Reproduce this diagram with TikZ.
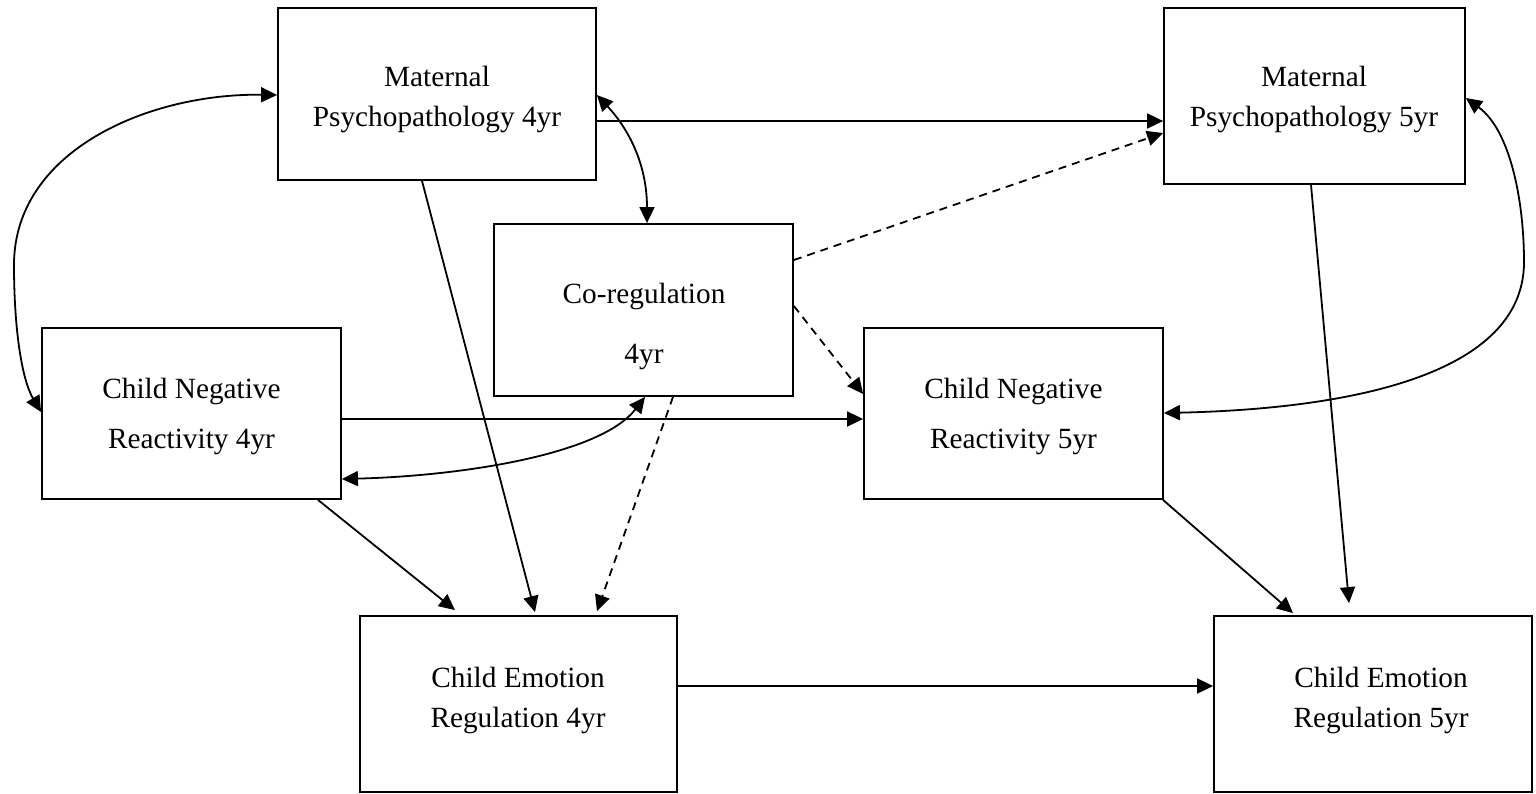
\documentclass[tikz,border=0pt]{standalone}
\usepackage{fontspec}
\setmainfont{Liberation Serif}
\usetikzlibrary{arrows.meta,calc}
\begin{document}
\begin{tikzpicture}[x=0.5pt,y=-0.5pt,
  box/.style={draw,line width=0.9pt,inner sep=0pt,rectangle},
  txt/.style={anchor=base,inner sep=0pt,font=\fontsize{14.65}{17}\selectfont},
  conn/.style={line width=0.9pt},
  dsh/.style={conn,dash pattern=on 4pt off 3pt},
  >={Triangle[length=8pt,width=7.5pt]}]
\useasboundingbox (0,0) rectangle (1536,793);
% boxes
\node[box,minimum width=159pt,minimum height=86pt] (mp4) at (437,94) {};
\node[box,minimum width=150.5pt,minimum height=88pt] (mp5) at (1314.5,96) {};
\node[box,minimum width=149.5pt,minimum height=86pt] (cr) at (643.5,310) {};
\node[box,minimum width=149.5pt,minimum height=85.5pt] (cn4) at (191.5,413.5) {};
\node[box,minimum width=149.5pt,minimum height=85.5pt] (cn5) at (1013.5,413.5) {};
\node[box,minimum width=158.5pt,minimum height=88pt] (ce4) at (518.5,704) {};
\node[box,minimum width=159pt,minimum height=88pt] (ce5) at (1373,704) {};
% texts
\node[txt] (mp4a) at (437,86) {Maternal};
\node[txt] (mp4b) at (437,126) {Psychopathology 4yr};
\node[txt] (mp5a) at (1314,86) {Maternal};
\node[txt] (mp5b) at (1314,126) {Psychopathology 5yr};
\node[txt] (cra) at (644,303) {Co-regulation};
\node[txt] (crb) at (644,363) {4yr};
\node[txt] (cn4a) at (191.5,398) {Child Negative};
\node[txt] (cn4b) at (191.5,448) {Reactivity 4yr};
\node[txt] (cn5a) at (1013.5,398) {Child Negative};
\node[txt] (cn5b) at (1013.5,448) {Reactivity 5yr};
\node[txt] (ce4a) at (518,687) {Child Emotion};
\node[txt] (ce4b) at (518,727) {Regulation 4yr};
\node[txt] (ce5a) at (1381,687) {Child Emotion};
\node[txt] (ce5b) at (1381,727) {Regulation 5yr};
% straight connectors
\draw[conn,->] (mp4.east |- 0,121) -- (mp5.west |- 0,121);
\draw[dsh,->] (cr.east |- 0,260) -- (mp5.west |- 0,133);
\draw[conn,->] (422,0 |- mp4.south) -- ([yshift=1.5pt]535,0 |- ce4.north);
\draw[conn,->] (cn4.east |- 0,419) -- (cn5.west |- 0,419);
\draw[dsh,->] (cr.east |- 0,306) -- (cn5.west |- 0,394);
\draw[dsh,->] (673,0 |- cr.south) -- ([yshift=2pt]597,0 |- ce4.north);
\draw[conn,->] (318,0 |- cn4.south) -- ([yshift=2.5pt]455,0 |- ce4.north);
\draw[conn,->] (1163,0 |- cn5.south) -- ([yshift=1pt]1293,0 |- ce5.north);
\draw[conn,->] (1311,0 |- mp5.south) -- ([yshift=6pt]1349,0 |- ce5.north);
\draw[conn,->] (ce4.east |- 0,686) -- (ce5.west |- 0,686);
% curved double-headed connectors
\draw[conn,<->] (mp4.west |- 0,95) .. controls (150,93) and (14,150) .. (14,265)
  .. controls (14,330) and (22,380) .. (cn4.west |- 0,412);
\draw[conn,<->] (mp4.east |- 0,95) .. controls (625,125) and (647,160) .. (647,0 |- cr.north);
\draw[conn,<->] (645,0 |- cr.south) .. controls (600,455) and (460,476) .. (cn4.east |- 0,479);
\draw[conn,<->] (mp5.east |- 0,98) .. controls (1510,130) and (1524,200) .. (1524,262)
  .. controls (1524,390) and (1300,410) .. (cn5.east |- 0,413);
\end{tikzpicture}
\end{document}
